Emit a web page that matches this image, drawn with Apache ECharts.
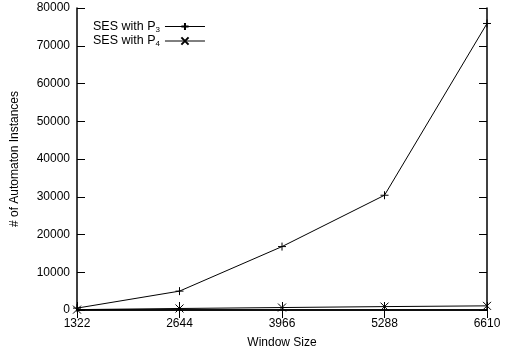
<!DOCTYPE html>
<html><head><meta charset="utf-8">
<script src="https://cdn.jsdelivr.net/npm/echarts@6/dist/echarts.min.js"></script>
<style>html,body{margin:0;padding:0;background:#fff}#c{width:508px;height:358px}</style>
</head><body><div id="c"></div>
<script>
var windowSizes = [1322, 2644, 3966, 5288, 6610];
var sesP3 = [500, 5000, 16800, 30400, 75900];
var sesP4 = [100, 400, 650, 900, 1100];
var yTicks = [0, 10000, 20000, 30000, 40000, 50000, 60000, 70000, 80000];

var FONT = 'Liberation Sans';
var plusPath = 'path://M0,5L10,5M5,0L5,10';
var crossPath = 'path://M0,0L10,10M10,0L0,10';
function pairs(v){ return windowSizes.map(function(x,i){return [x, v[i]];}); }
function plain(v){ return String(v); }

var chart = echarts.init(document.getElementById('c'), null, {renderer:'canvas'});
var axisLine = {show:true, lineStyle:{color:'#000', width:1.5}};
var tick = {show:true, inside:true, length:8, lineStyle:{color:'#000', width:1}};
chart.setOption({
  animation:false,
  backgroundColor:'#fff',
  textStyle:{fontFamily:FONT},
  grid:{left:77, right:21, top:8, bottom:48, containLabel:false},
  legend:{
    orient:'vertical', left:88, top:15, align:'right',
    itemWidth:40, itemHeight:9, itemGap:1,
    lineStyle:{width:1, color:'#000'},
    textStyle:{fontFamily:FONT, fontSize:12.5, color:'#000', padding:[0,0,0,0],
      rich:{s:{fontSize:8, verticalAlign:'bottom', padding:[6,0,0,0], fontFamily:FONT}}},
    formatter:function(n){ return n.replace(/P(\d)/, 'P{s|$1}'); },
    data:['SES with P3','SES with P4']
  },
  xAxis:[{
    type:'value', min:1322, max:6610, interval:1322,
    name:'Window Size', nameLocation:'middle', nameGap:27,
    nameTextStyle:{fontFamily:FONT, fontSize:12, color:'#000'},
    axisLine:axisLine, axisTick:tick, splitLine:{show:false},
    axisLabel:{fontFamily:FONT, fontSize:12, color:'#000', margin:8, formatter:plain}
  },{
    type:'value', position:'top', min:1322, max:6610, interval:1322,
    axisLine:axisLine, axisTick:tick, splitLine:{show:false}, axisLabel:{show:false}
  }],
  yAxis:[{
    type:'value', min:yTicks[0], max:yTicks[yTicks.length-1], interval:10000,
    name:'# of Automaton Instances', nameLocation:'middle', nameGap:56, nameRotate:90,
    nameTextStyle:{fontFamily:FONT, fontSize:12, color:'#000'},
    axisLine:axisLine, axisTick:tick, splitLine:{show:false},
    axisLabel:{fontFamily:FONT, fontSize:12, color:'#000', margin:7, formatter:plain}
  },{
    type:'value', position:'right', min:0, max:80000, interval:10000,
    axisLine:axisLine, axisTick:tick, splitLine:{show:false}, axisLabel:{show:false}
  }],
  series:[{
    name:'SES with P3', type:'line', data:pairs(sesP3),
    symbol:plusPath, symbolSize:8, showAllSymbol:true,
    lineStyle:{color:'#000', width:1},
    itemStyle:{color:'rgba(0,0,0,0)', borderColor:'#000', borderWidth:1}
  },{
    name:'SES with P4', type:'line', data:pairs(sesP4),
    symbol:crossPath, symbolSize:8, showAllSymbol:true,
    lineStyle:{color:'#000', width:1},
    itemStyle:{color:'rgba(0,0,0,0)', borderColor:'#000', borderWidth:1}
  }]
});
</script></body></html>
